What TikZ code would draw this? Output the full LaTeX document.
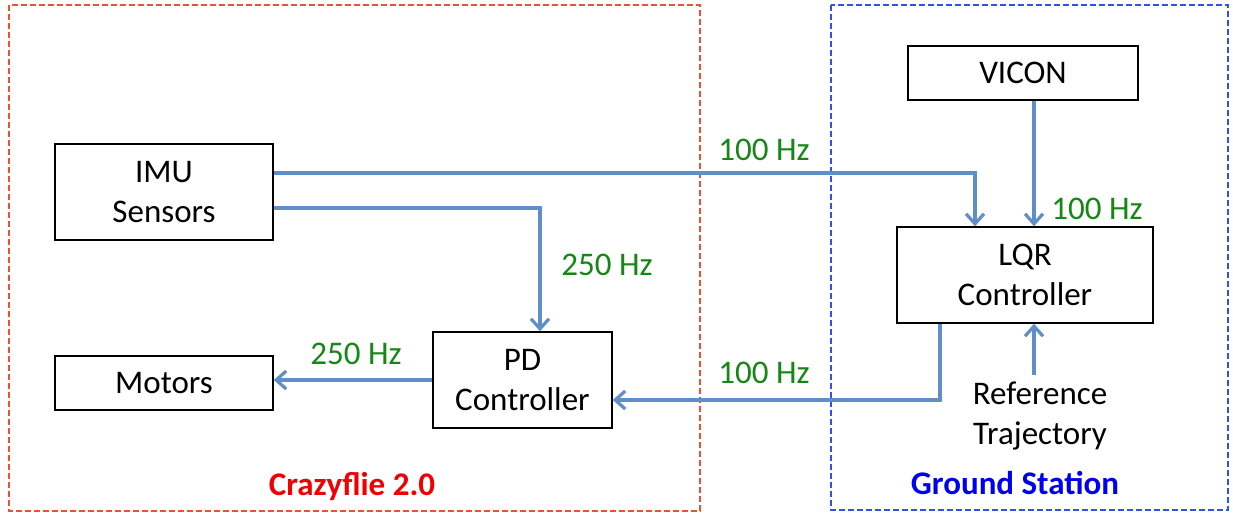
\documentclass[tikz,border=0pt]{standalone}
\usepackage{fontspec}
\setmainfont{Carlito}
\usetikzlibrary{arrows.meta}
\definecolor{arrowblue}{RGB}{95,142,200}
\definecolor{lblgreen}{RGB}{20,135,20}
\definecolor{framered}{RGB}{240,80,50}
\definecolor{frameblue}{RGB}{50,80,240}
\definecolor{titlered}{RGB}{240,0,0}
\definecolor{titleblue}{RGB}{0,0,240}
\tikzset{
  blockbox/.style={draw=black, line width=1.6pt, inner sep=0pt, align=center,
    font=\fontsize{33}{40}\selectfont},
  conn/.style={draw=arrowblue, line width=3.2pt,
    -{Straight Barb[length=10pt,width=18pt,line width=3.2pt]}},
  ratelbl/.style={text=lblgreen, font=\fontsize{33}{38}\selectfont, inner sep=0pt},
  redframe/.style={draw=framered, line width=1.3pt, dash pattern=on 6pt off 3pt},
  blueframe/.style={draw=frameblue, line width=1.3pt, dash pattern=on 6pt off 3pt},
  titletxt/.style={font=\bfseries\fontsize{33}{38}\selectfont, inner sep=0pt}
}
\begin{document}
\begin{tikzpicture}[x=1pt,y=-1pt]
\useasboundingbox (0,0) rectangle (1233,514);
\fill[white] (0,0) rectangle (1233,514);
% frames
\draw[redframe] (9,5) rectangle (700,511);
\draw[blueframe] (831,5) rectangle (1228,510);
\node[titletxt, text=titlered] (t1) at (352,487) {Crazyflie 2.0};
\node[titletxt, text=titleblue] (t2) at (1015,483) {Ground Station};
% blocks
\node[blockbox, minimum width=218pt, minimum height=96pt] (imu) at (164,192) {IMU\\Sensors};
\node[blockbox, minimum width=218pt, minimum height=54pt] (mot) at (164,383) {Motors};
\node[blockbox, minimum width=179pt, minimum height=96pt] (pd) at (522.5,380) {PD\\Controller};
\node[blockbox, minimum width=230pt, minimum height=54pt] (vicon) at (1023,73) {VICON};
\node[blockbox, minimum width=256pt, minimum height=96pt] (lqr) at (1025,275) {LQR\\Controller};
\node[blockbox, draw=none, anchor=north] (ref) at (1040,381) {Reference\\Trajectory};
% connectors
\draw[conn] ([yshift=19pt]imu.east) -| ([xshift=-50pt]lqr.north);
\draw[conn] ([yshift=-16pt]imu.east) -| ([xshift=17.5pt]pd.north);
\draw[conn] ([xshift=11pt]vicon.south) -- ([xshift=11pt]vicon.south |- lqr.north);
\draw[conn] ([xshift=-85pt]lqr.south) |- ([yshift=-20pt]pd.east);
\draw[conn] ([xshift=-6pt,yshift=6pt]ref.north) -- ([xshift=-6pt]ref.north |- lqr.south);
\draw[conn] (pd.west) -- (pd.west -| mot.east);
% rate labels
\node[ratelbl] (l1) at (764,150) {100 Hz};
\node[ratelbl] (l2) at (607,265) {250 Hz};
\node[ratelbl] (l3) at (1097,209) {100 Hz};
\node[ratelbl] (l4) at (764,373) {100 Hz};
\node[ratelbl] (l5) at (356,354) {250 Hz};
\end{tikzpicture}
\end{document}
